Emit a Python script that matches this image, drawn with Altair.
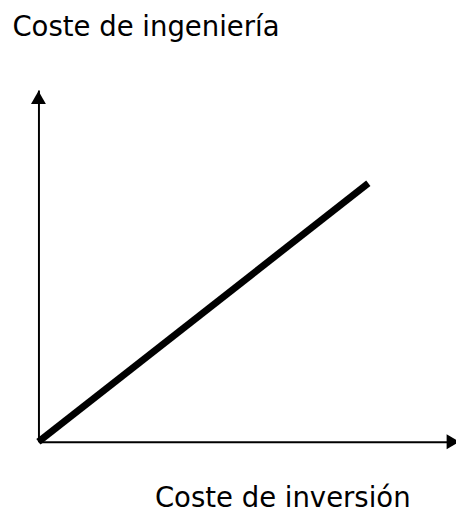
import altair as alt
import pandas as pd

# Data (normalized units: 0..1 along each axis)
line_x = [0.0, 0.79]
line_y = [0.0, 0.735]

y_arrow_x = [0.0]
y_arrow_y = [0.979]
x_arrow_x = [0.993]
x_arrow_y = [0.0]

title_y = "Coste de ingeniería"
title_x = "Coste de inversión"

FONT = "DejaVu Sans"
FS = 28

line_df = pd.DataFrame({"x": line_x, "y": line_y})
ya_df = pd.DataFrame({"x": y_arrow_x, "y": y_arrow_y})
xa_df = pd.DataFrame({"x": x_arrow_x, "y": x_arrow_y})

xscale = alt.Scale(domain=[0, 1], nice=False, zero=False)
yscale = alt.Scale(domain=[0, 1], nice=False, zero=False)

xaxis = alt.Axis(
    title=title_x, domain=True, domainColor="black", domainWidth=2,
    ticks=False, labels=False, grid=False,
    titleFont=FONT, titleFontSize=FS, titleFontWeight="normal", titleColor="black",
    titleAngle=0, titleAlign="left", titleBaseline="alphabetic",
    titleX=118, titleY=66,
)
yaxis = alt.Axis(
    title=title_y, domain=True, domainColor="black", domainWidth=2,
    ticks=False, labels=False, grid=False,
    titleFont=FONT, titleFontSize=FS, titleFontWeight="normal", titleColor="black",
    titleAngle=0, titleAlign="left", titleBaseline="alphabetic",
    titleX=-27, titleY=-56,
)

base_line = alt.Chart(line_df).mark_line(color="black", strokeWidth=7, strokeCap="butt").encode(
    x=alt.X("x:Q", scale=xscale, axis=xaxis),
    y=alt.Y("y:Q", scale=yscale, axis=yaxis),
)

y_arrow = alt.Chart(ya_df).mark_point(
    shape="triangle-up", filled=True, color="black", size=230, opacity=1
).encode(x=alt.X("x:Q", scale=xscale), y=alt.Y("y:Q", scale=yscale))

x_arrow = alt.Chart(xa_df).mark_point(
    shape="triangle-right", filled=True, color="black", size=230, opacity=1
).encode(x=alt.X("x:Q", scale=xscale), y=alt.Y("y:Q", scale=yscale))

chart = alt.layer(base_line, y_arrow, x_arrow).properties(
    width=425, height=358,
    background="white",
    autosize=alt.AutoSizeParams(type="none"),
    padding={"left": 31, "top": 79, "right": 0, "bottom": 69},
).configure_view(stroke=None, strokeWidth=0)

chart.save("out.html", embed_options={"renderer": "svg", "actions": False})
